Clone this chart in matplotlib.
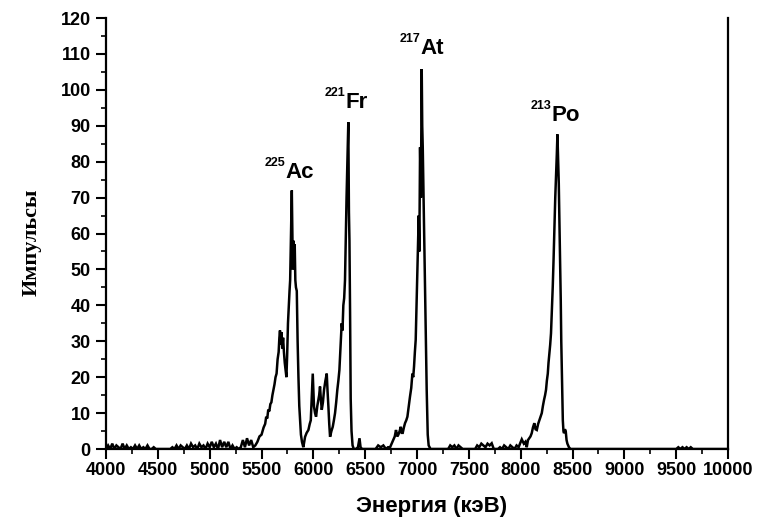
import matplotlib
matplotlib.use("Agg")
import matplotlib.pyplot as plt
from matplotlib.ticker import MultipleLocator

# ---- data ----
energy_kev = [
    4000, 4020, 4040, 4060, 4080, 4100, 4120, 4140, 4160, 4180, 4200, 4220, 4240, 4260, 4280,
    4300, 4320, 4340, 4360, 4380, 4400, 4420, 4440, 4460, 4480, 4500, 4620,
    4640, 4660, 4680, 4700, 4720, 4740, 4760, 4780, 4800, 4820, 4840, 4860, 4880, 4900,
    4920, 4940, 4960, 4980, 5000, 5020, 5040, 5060, 5080, 5100, 5120, 5140, 5160, 5180,
    5200, 5220, 5240, 5260, 5280, 5300, 5320, 5340, 5360, 5380, 5400, 5420, 5440,
    5460, 5480, 5500, 5520, 5535, 5545, 5555, 5565, 5575, 5585, 5595, 5605, 5615, 5625,
    5635, 5645, 5655, 5665, 5672, 5678, 5685, 5692, 5700, 5708, 5716, 5724, 5732, 5740,
    5747, 5755, 5763, 5770, 5776, 5782, 5788, 5792, 5797, 5802, 5808, 5814, 5820, 5826,
    5832, 5840, 5848, 5856, 5864, 5872, 5880, 5890, 5903,
    5920, 5935, 5952, 5965, 5975, 5994, 6006, 6016, 6026, 6038, 6048, 6056, 6064, 6072,
    6081, 6092, 6103, 6116, 6129, 6137, 6145, 6153, 6161, 6174, 6187, 6198, 6209, 6220,
    6231, 6241, 6251, 6258, 6264, 6273, 6281, 6289, 6297, 6305, 6312, 6320, 6328, 6337,
    6343, 6348, 6354, 6360, 6368, 6378, 6390, 6410, 6430, 6445, 6455, 6470,
    6600, 6625, 6650, 6675, 6700, 6720, 6740, 6755, 6771, 6785, 6797, 6809, 6820, 6832,
    6843, 6852, 6862, 6873, 6884, 6896, 6907, 6920, 6932, 6944, 6955, 6963, 6971, 6979,
    6987, 6995, 7003, 7010, 7016, 7022, 7029, 7037, 7045, 7050, 7055, 7060, 7064, 7069,
    7074, 7079, 7084, 7093, 7103, 7112, 7130,
    7300, 7320, 7340, 7360, 7380, 7400, 7420, 7440, 7560, 7580, 7600, 7620, 7640, 7660,
    7680, 7700, 7720, 7740, 7780, 7800, 7820, 7840, 7860, 7880, 7900, 7920, 7940, 7960,
    7980, 7993, 8010, 8030, 8045, 8058, 8070, 8082, 8094, 8106, 8118, 8131, 8143, 8155,
    8168, 8180, 8192, 8203, 8214, 8225, 8235, 8244, 8252, 8261, 8268, 8276, 8284, 8292,
    8300, 8309, 8317, 8325, 8333, 8341, 8348, 8354, 8361, 8367, 8372, 8376, 8381, 8386,
    8391, 8396, 8401, 8406, 8412, 8418, 8426, 8434, 8442, 8450, 8465, 8480,
    9000, 9500, 9520, 9540, 9560, 9580, 9600, 9620, 9640, 9660, 9700, 10000,
]
counts = [
    0, 1, 0, 1.5, 0, 1, 0.5, 0, 1.5, 0, 1, 0, 0.5, 0, 1,
    0, 1, 0, 0.5, 0, 1, 0, 0, 0.5, 0, 0, 0,
    0.5, 0, 1, 0, 1, 0.5, 0, 1, 0, 1.5, 0.5, 1, 0, 1.5,
    0.5, 1, 0, 1.5, 0.5, 2, 0.5, 1.5, 0, 2.5, 0.5, 2, 0.5, 2,
    0, 1, 0, 0.5, 0, 0.5, 2.5, 0.5, 3, 1, 2.5, 0.5, 1,
    2, 3.5, 4, 6, 7, 9, 8.5, 11, 10.5, 12.5, 13, 15, 16.5, 18,
    20, 21, 25, 27, 31, 33, 29, 32.5, 28, 31, 27, 24, 22, 20,
    26, 35, 40, 44, 47, 56, 66, 72, 60, 50, 58, 52, 57, 47,
    45, 44, 30, 20, 12, 8, 4, 2, 0.5,
    3.4, 4.5, 5.3, 7, 8, 21, 11.8, 10, 9, 12, 13.7, 15, 17.4, 14,
    10.9, 13, 16.5, 19, 21, 16, 11.8, 7, 3.4, 5, 6.2, 8, 10, 13,
    16.5, 19, 22, 26, 30, 35, 33, 40, 42, 47, 58, 70, 80, 91,
    66, 58, 38, 14, 5, 1, 0, 0, 0.5, 3, 0.5, 0,
    0, 1, 0.5, 1, 0, 0.5, 0.5, 1.5, 2.5, 3.5, 5.3, 3.5, 4, 5,
    6.2, 4.5, 4.5, 6, 7.2, 8, 9, 12, 14.6, 17, 21, 20, 23, 27,
    30.4, 40, 49, 58, 65, 55, 84, 70, 105.8, 90, 84, 75, 67.6, 58,
    49, 40, 30, 16.5, 4, 1, 0,
    0, 1, 0.5, 1, 0, 1, 0.5, 0, 0, 1, 0.5, 1.5, 1, 0.5,
    1.5, 1, 1.6, 0, 0, 0.5, 0, 1, 0.5, 0, 1, 0.5, 0, 1,
    0.5, 1.5, 2.7, 1.5, 2, 0.5, 2.5, 3, 3.5, 4.4, 6, 7.2, 5.5, 5.3,
    7, 8, 9, 10, 12, 13.7, 15, 16.5, 19, 21, 24, 26.6, 29, 32.2,
    38, 45.3, 53, 62, 70, 76, 82, 87.6, 80, 74, 66, 60, 50, 41.6,
    30, 22.7, 14, 8, 5, 4.4, 5.5, 5, 2.5, 1.5, 0.5, 0,
    0, 0, 0.5, 0, 0.5, 0, 0.5, 0, 0.5, 0, 0, 0,
]

x_ticks = [4000, 4500, 5000, 5500, 6000, 6500, 7000, 7500, 8000, 8500, 9000, 9500, 10000]
y_ticks = [0, 10, 20, 30, 40, 50, 60, 70, 80, 90, 100, 110, 120]

peak_mass = ["225", "221", "217", "213"]
peak_elem = ["Ac", "Fr", "At", "Po"]
peak_label_x = [5733, 6312, 7035, 8299]
peak_label_y = [75.4, 94.9, 110.0, 91.4]

x_label = "Энергия (кэВ)"
y_label = "Импульсы"

# ---- figure ----
fig = plt.figure(figsize=(7.6, 5.22), dpi=100)
ax = fig.add_axes([0.1395, 0.1398, 0.8185, 0.8257])

ax.plot(energy_kev, counts, color="black", linewidth=1.8, solid_joinstyle="miter")

ax.set_xlim(4000, 10000)
ax.set_ylim(0, 120)
ax.set_xticks(x_ticks)
ax.set_yticks(y_ticks)
ax.xaxis.set_minor_locator(MultipleLocator(250))
ax.yaxis.set_minor_locator(MultipleLocator(5))

ax.spines["top"].set_visible(False)
for s in ["left", "bottom", "right"]:
    ax.spines[s].set_linewidth(1.6)

ax.tick_params(axis="both", which="major", direction="out", length=7, width=1.5, pad=2.5)
ax.tick_params(axis="both", which="minor", direction="out", length=3.5, width=1.2)
ax.tick_params(axis="y", which="major", pad=4)
for lab in ax.get_xticklabels() + ax.get_yticklabels():
    lab.set_fontfamily("Liberation Sans")
    lab.set_fontweight("bold")
    lab.set_fontsize(13)

ax.set_xlabel(x_label, fontfamily="Liberation Sans", fontweight="bold", fontsize=16)
ax.xaxis.set_label_coords(0.524, -0.108)
ax.set_ylabel(y_label, fontfamily="Liberation Serif", fontweight="bold", fontsize=16)
ax.yaxis.set_label_coords(-0.104, 0.48)

for m, e, lx, ly in zip(peak_mass, peak_elem, peak_label_x, peak_label_y):
    ax.text(lx, ly, e, fontfamily="Liberation Sans", fontweight="bold", fontsize=16,
            ha="left", va="baseline")
    ax.text(lx, ly + 3.3, m, fontfamily="Liberation Sans", fontweight="bold", fontsize=9,
            ha="right", va="baseline")

fig.savefig("out.png", dpi=100, facecolor="white")
